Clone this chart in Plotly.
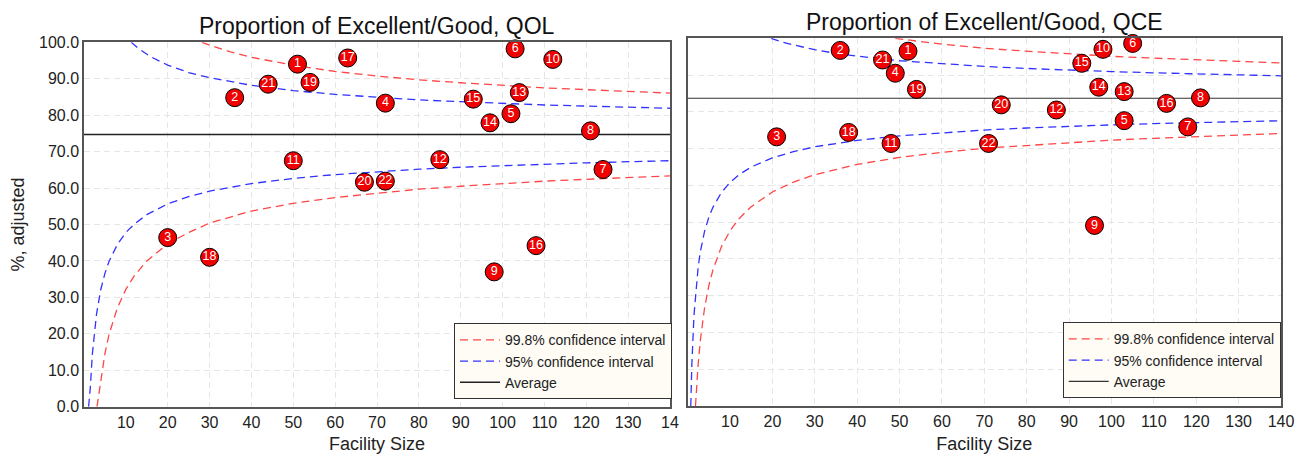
import plotly.graph_objects as go

# ---------------- data ----------------
ids = [str(i) for i in range(1, 23)]

qol_size = [51, 36, 20, 72, 102, 103, 124, 121, 98, 112, 50, 85, 104, 97, 93, 108, 63, 30, 54, 67, 44, 72]
qol_pct = [94.0, 84.8, 46.4, 83.3, 80.4, 98.2, 65.1, 75.7, 37.0, 95.3, 67.5, 67.8, 86.2, 77.9, 84.4, 44.2, 95.7, 41.0, 89.0, 61.6, 88.5, 61.9]

qce_size = [52, 36, 21, 49, 103, 105, 118, 121, 96, 98, 48, 87, 103, 97, 93, 113, 63, 38, 54, 74, 46, 71]
qce_pct = [96.5, 96.7, 73.2, 90.5, 77.6, 98.6, 75.9, 83.8, 49.1, 97.0, 71.4, 80.5, 85.5, 86.7, 93.2, 82.3, 100.4, 74.4, 86.1, 81.9, 94.1, 71.4]

qol_avg = 74.7
qce_avg = 83.7
avg_x = [0, 140]

# confidence-limit curves
qol_u95_x = [11.3, 13, 16, 20, 25, 30, 40, 50, 60, 70, 80, 90, 100, 110, 120, 130, 140]
qol_u95_y = [100.0, 98.3, 96.0, 93.75, 91.7, 90.3, 88.2, 86.75, 85.7, 84.9, 84.2, 83.7, 83.2, 82.8, 82.5, 82.2, 81.9]
qol_u998_x = [28.2, 30, 35, 40, 50, 60, 70, 80, 90, 100, 110, 120, 130, 140]
qol_u998_y = [100.0, 99.2, 97.4, 95.9, 93.7, 92.0, 90.75, 89.7, 88.9, 88.1, 87.5, 87.0, 86.5, 86.05]
qol_l95_x = [1.1, 1.5, 2, 2.5, 3, 4, 5, 6, 8, 10, 12, 15, 20, 25, 30, 40, 50, 60, 70, 80, 90, 100, 110, 120, 130, 140]
qol_l95_y = [0.0, 5.1, 14.5, 20.8, 25.5, 32.1, 36.6, 39.9, 44.6, 47.8, 50.1, 52.7, 55.65, 57.66, 59.14, 61.23, 62.65, 63.7, 64.52, 65.17, 65.72, 66.18, 66.58, 66.92, 67.23, 67.5]
qol_l998_x = [3.1, 3.5, 4, 5, 6, 7, 8, 10, 12, 15, 20, 25, 30, 40, 50, 60, 70, 80, 90, 100, 110, 120, 130, 140]
qol_l998_y = [0.0, 2.9, 7.55, 14.6, 19.9, 23.9, 27.2, 32.2, 35.9, 40.0, 44.7, 47.8, 50.4, 53.7, 55.8, 57.4, 58.65, 59.7, 60.5, 61.3, 61.9, 62.4, 62.9, 63.35]

qce_u95_x = [19.7, 22, 25, 30, 35, 40, 50, 60, 70, 80, 90, 100, 110, 120, 130, 140]
qce_u95_y = [100.0, 99.1, 98.2, 96.9, 95.9, 95.15, 93.9, 93.05, 92.35, 91.8, 91.3, 90.95, 90.6, 90.3, 90.05, 89.8]
qce_u998_x = [49, 52, 55, 60, 70, 80, 90, 100, 110, 120, 130, 140]
qce_u998_y = [100.0, 99.5, 99.1, 98.4, 97.3, 96.5, 95.7, 95.1, 94.6, 94.1, 93.7, 93.3]
qce_l95_x = [0.75, 1, 1.5, 2, 2.5, 3, 4, 5, 6, 8, 10, 12, 15, 20, 25, 30, 40, 50, 60, 70, 80, 90, 100, 110, 120, 130, 140]
qce_l95_y = [0.0, 11.3, 24.6, 32.5, 37.9, 41.9, 47.5, 51.3, 54.1, 58.1, 60.8, 62.8, 65.0, 67.5, 69.2, 70.5, 72.25, 73.46, 74.35, 75.05, 75.6, 76.07, 76.46, 76.8, 77.09, 77.35, 77.58]
qce_l998_x = [1.86, 2, 2.5, 3, 4, 5, 6, 8, 10, 12, 15, 20, 25, 30, 40, 50, 60, 70, 80, 90, 100, 110, 120, 130, 140]
qce_l998_y = [0.0, 3.0, 11.5, 17.8, 26.65, 32.7, 37.1, 43.4, 47.6, 50.8, 54.2, 58.2, 60.9, 62.9, 65.7, 67.6, 69.0, 70.1, 70.9, 71.7, 72.3, 72.8, 73.3, 73.7, 74.1]

titles = ["Proportion of Excellent/Good, QOL", "Proportion of Excellent/Good, QCE"]
x_ticks = [10, 20, 30, 40, 50, 60, 70, 80, 90, 100, 110, 120, 130, 140]
x_ticktext_left = ["10", "20", "30", "40", "50", "60", "70", "80", "90", "100", "110", "120", "130", "14"]
x_ticktext_right = ["10", "20", "30", "40", "50", "60", "70", "80", "90", "100", "110", "120", "130", "140"]
y_ticks = [0, 10, 20, 30, 40, 50, 60, 70, 80, 90, 100]
y_ticktext = ["0.0", "10.0", "20.0", "30.0", "40.0", "50.0", "60.0", "70.0", "80.0", "90.0", "100.0"]
grid_x = [20, 30, 40, 50, 60, 70, 80, 90, 100, 110, 120, 130]
grid_y = [10, 20, 30, 40, 50, 60, 70, 80, 90]

# ---------------- styles / layout ----------------
FONT = "Liberation Sans, Arial, sans-serif"
RED = "rgb(255,70,70)"
BLUE = "rgb(50,50,255)"
W, H = 1297, 457


def fx(px):
    return px / W


def fy(py):
    return (H - py) / H


fig = go.Figure()


def add_panel(xa, ya, legend, u998, l998, u95, l95, avg, sizes, pcts, avg_color, avg_width):
    fig.add_trace(go.Scatter(x=u998[0], y=u998[1], mode="lines", name="99.8% confidence interval",
                             line=dict(color=RED, width=1.3, dash="8px,5px"), xaxis=xa, yaxis=ya,
                             legend=legend, legendgroup=legend + "r", hoverinfo="skip"))
    fig.add_trace(go.Scatter(x=l998[0], y=l998[1], mode="lines", name="99.8% confidence interval",
                             line=dict(color=RED, width=1.3, dash="8px,5px"), xaxis=xa, yaxis=ya,
                             legend=legend, legendgroup=legend + "r", showlegend=False, hoverinfo="skip"))
    fig.add_trace(go.Scatter(x=u95[0], y=u95[1], mode="lines", name="95% confidence interval",
                             line=dict(color=BLUE, width=1.3, dash="8px,5px"), xaxis=xa, yaxis=ya,
                             legend=legend, legendgroup=legend + "b", hoverinfo="skip"))
    fig.add_trace(go.Scatter(x=l95[0], y=l95[1], mode="lines", name="95% confidence interval",
                             line=dict(color=BLUE, width=1.3, dash="8px,5px"), xaxis=xa, yaxis=ya,
                             legend=legend, legendgroup=legend + "b", showlegend=False, hoverinfo="skip"))
    fig.add_trace(go.Scatter(x=avg_x, y=[avg, avg], mode="lines", name="Average",
                             line=dict(color=avg_color, width=avg_width), xaxis=xa, yaxis=ya,
                             legend=legend, hoverinfo="skip"))
    fig.add_trace(go.Scatter(x=sizes, y=pcts, mode="markers+text", text=ids,
                             textposition="middle center",
                             textfont=dict(color="white", size=12.5, family=FONT),
                             marker=dict(size=18, color="rgb(240,0,0)", line=dict(color="black", width=1)),
                             xaxis=xa, yaxis=ya, showlegend=False, cliponaxis=False))


add_panel("x", "y", "legend", (qol_u998_x, qol_u998_y), (qol_l998_x, qol_l998_y),
          (qol_u95_x, qol_u95_y), (qol_l95_x, qol_l95_y), qol_avg, qol_size, qol_pct, "#222222", 1.5)
add_panel("x2", "y2", "legend2", (qce_u998_x, qce_u998_y), (qce_l998_x, qce_l998_y),
          (qce_u95_x, qce_u95_y), (qce_l95_x, qce_l95_y), qce_avg, qce_size, qce_pct, "#333333", 1.2)


def xaxis(domain, anchor, ticktext):
    return dict(domain=domain, anchor=anchor, range=[0, 140], tickmode="array", tickvals=x_ticks,
                ticktext=ticktext, showgrid=False, zeroline=False, showline=True, mirror=True,
                linecolor="#555555", linewidth=1.5, ticks="", automargin=False,
                tickfont=dict(size=16, color="#222", family=FONT),
                title=dict(text="Facility Size", font=dict(size=18, color="#222", family=FONT), standoff=8),
                minor=dict(tickmode="array", tickvals=grid_x, showgrid=True, gridcolor="#e6e6e6",
                           griddash="6px,4px", gridwidth=1, ticks=""),
                fixedrange=True)


def yaxis(domain, anchor, labels):
    d = dict(domain=domain, anchor=anchor, range=[0, 100], tickmode="array", tickvals=y_ticks,
             ticktext=y_ticktext, showticklabels=labels, showgrid=False, zeroline=False, showline=True,
             mirror=True, linecolor="#555555", linewidth=1.5, ticks="", automargin=False,
             tickfont=dict(size=16, color="#222", family=FONT),
             minor=dict(tickmode="array", tickvals=grid_y, showgrid=True, gridcolor="#e6e6e6",
                        griddash="6px,4px", gridwidth=1, ticks=""),
             fixedrange=True)
    if labels:
        d["title"] = dict(text="%, adjusted", font=dict(size=18, color="#222", family=FONT), standoff=10)
    return d


legend_style = dict(xanchor="left", yanchor="top", bgcolor="#fffcf6", bordercolor="#333333", borderwidth=1,
                    font=dict(size=14, color="#222", family=FONT), traceorder="normal", tracegroupgap=0,
                    itemwidth=40)

fig.update_layout(
    width=W, height=H,
    margin=dict(l=0, r=0, t=0, b=0, autoexpand=False),
    paper_bgcolor="white", plot_bgcolor="white",
    font=dict(family=FONT, color="#222"),
    xaxis=xaxis([fx(84), fx(670)], "y", x_ticktext_left),
    yaxis=yaxis([fy(406.7), fy(42.3)], "x", True),
    xaxis2=xaxis([fx(687.6), fx(1281)], "y2", x_ticktext_right),
    yaxis2=yaxis([fy(406), fy(38.3)], "x2", False),
    legend=dict(x=fx(454), y=fy(323.3), **legend_style),
    legend2=dict(x=fx(1062.7), y=fy(322.3), **legend_style),
    annotations=[
        dict(text=titles[0], x=fx(377), y=fy(26), xref="paper", yref="paper", showarrow=False,
             xanchor="center", yanchor="middle", font=dict(size=23, color="#111", family=FONT)),
        dict(text=titles[1], x=fx(984), y=fy(22), xref="paper", yref="paper", showarrow=False,
             xanchor="center", yanchor="middle", font=dict(size=23, color="#111", family=FONT)),
    ],
    showlegend=True,
)

fig.write_html("out.html",
               config={"displayModeBar": False, "staticPlot": False},
               post_script="document.body.style.margin='0';document.body.style.overflow='hidden';")
